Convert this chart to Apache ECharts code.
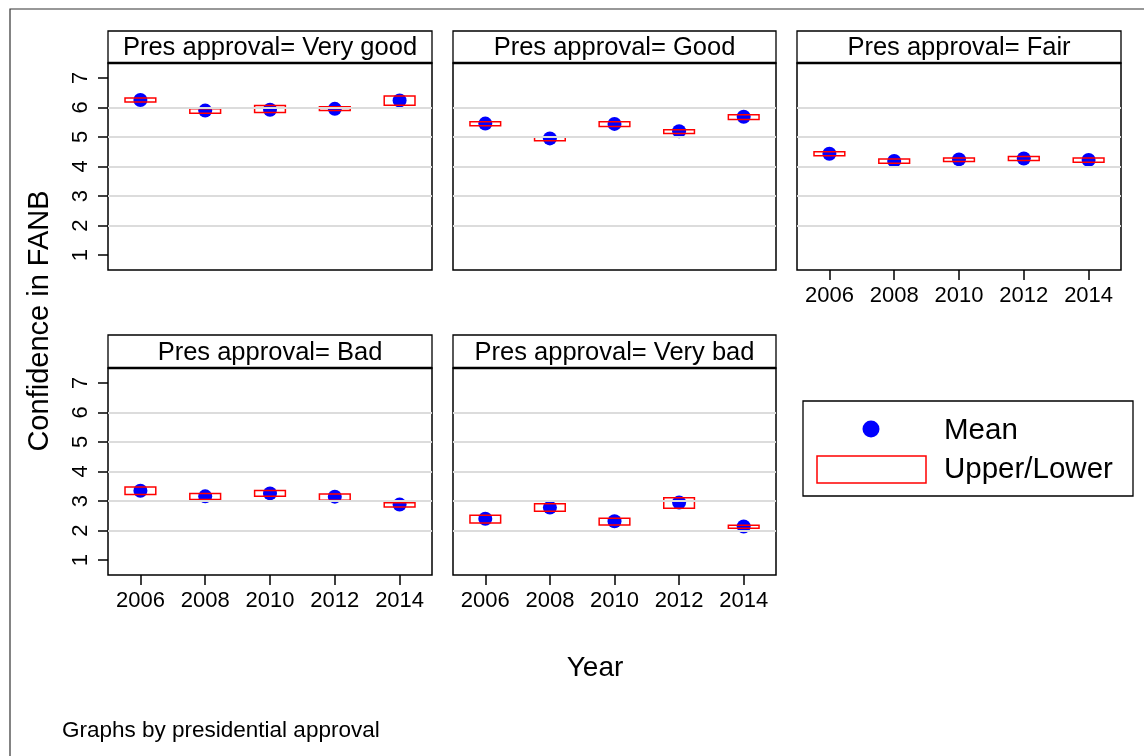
<!DOCTYPE html>
<html>
<head>
<meta charset="utf-8">
<script src="https://cdn.jsdelivr.net/npm/echarts@6/dist/echarts.min.js"></script>
<style>
  html, body { margin: 0; padding: 0; background: #fff; }
  #chart { width: 1144px; height: 756px; }
</style>
</head>
<body>
<div id="chart"></div>
<script>
// ---------- data ----------
const years = [2006, 2008, 2010, 2012, 2014];
const panelNames = ['Very good', 'Good', 'Fair', 'Bad', 'Very bad'];
const yTickValues = [1, 2, 3, 4, 5, 6, 7];
const gridLineValues = [2, 3, 4, 5, 6];

const meanVeryGood  = [6.25, 5.89, 5.92, 5.95, 6.23];
const upperVeryGood = [6.32, 5.95, 6.06, 6.02, 6.38];
const lowerVeryGood = [6.18, 5.80, 5.83, 5.89, 6.07];

const meanGood  = [5.45, 4.95, 5.44, 5.19, 5.68];
const upperGood = [5.51, 5.01, 5.51, 5.24, 5.75];
const lowerGood = [5.38, 4.87, 5.35, 5.12, 5.59];

const meanFair  = [4.43, 4.19, 4.24, 4.27, 4.22];
const upperFair = [4.50, 4.25, 4.29, 4.34, 4.29];
const lowerFair = [4.36, 4.11, 4.17, 4.20, 4.14];

const meanBad  = [3.35, 3.16, 3.26, 3.15, 2.88];
const upperBad = [3.48, 3.26, 3.36, 3.24, 2.94];
const lowerBad = [3.22, 3.05, 3.16, 3.03, 2.80];

const meanVeryBad  = [2.40, 2.78, 2.32, 2.95, 2.14];
const upperVeryBad = [2.52, 2.91, 2.42, 3.11, 2.18];
const lowerVeryBad = [2.26, 2.66, 2.19, 2.76, 2.08];

const means  = [meanVeryGood, meanGood, meanFair, meanBad, meanVeryBad];
const uppers = [upperVeryGood, upperGood, upperFair, upperBad, upperVeryBad];
const lowers = [lowerVeryGood, lowerGood, lowerFair, lowerBad, lowerVeryBad];

// ---------- layout ----------
const FONT = 'Liberation Sans, Arial, Helvetica, sans-serif';
const panels = [
  { left: 108, top: 63,  width: 324, height: 207, yLabels: true,  xLabels: false, titleTop: 31 },
  { left: 453, top: 63,  width: 323, height: 207, yLabels: false, xLabels: false, titleTop: 31 },
  { left: 797, top: 63,  width: 324, height: 207, yLabels: false, xLabels: true,  titleTop: 31 },
  { left: 108, top: 368, width: 324, height: 207, yLabels: true,  xLabels: true,  titleTop: 335 },
  { left: 453, top: 368, width: 323, height: 207, yLabels: false, xLabels: true,  titleTop: 335 }
];

const grids = [], xAxes = [], yAxes = [], series = [], graphics = [];

panels.forEach((p, i) => {
  grids.push({
    left: p.left, top: p.top, width: p.width, height: p.height,
    show: true, borderColor: '#000', borderWidth: 1.5, backgroundColor: '#fff'
  });
  xAxes.push({
    type: 'value', gridIndex: i, min: 2005, max: 2015,
    axisLine: { show: false },
    splitLine: { show: false },
    axisTick: { show: p.xLabels, inside: false, customValues: years, length: 10, lineStyle: { color: '#000', width: 1.5 } },
    axisLabel: {
      show: p.xLabels, customValues: years, margin: 15,
      fontFamily: FONT, fontSize: 22, color: '#000',
      formatter: v => String(v)
    }
  });
  yAxes.push({
    type: 'value', gridIndex: i, min: 0.5, max: 7.5,
    axisLine: { show: false },
    splitLine: { show: false },
    axisTick: { show: p.yLabels, inside: false, customValues: yTickValues, length: 10, lineStyle: { color: '#000', width: 1.5 } },
    axisLabel: {
      show: p.yLabels, customValues: yTickValues, rotate: 90, margin: 16,
      fontFamily: FONT, fontSize: 22, color: '#000',
      formatter: v => String(v)
    }
  });

  // gridlines
  series.push({
    type: 'line', xAxisIndex: i, yAxisIndex: i, data: [], z: 1, silent: true,
    markLine: {
      silent: true, symbol: ['none', 'none'], label: { show: false },
      lineStyle: { color: '#dcdcdc', width: 2, type: 'solid' },
      animation: false,
      data: gridLineValues.map(v => ({ yAxis: v }))
    }
  });

  // mean dots
  series.push({
    type: 'scatter', name: 'Mean', xAxisIndex: i, yAxisIndex: i, z: 3,
    symbol: 'circle', symbolSize: 14,
    itemStyle: { color: '#0000ff', opacity: 1 },
    data: years.map((y, k) => [y, means[i][k]])
  });

  // upper/lower boxes
  series.push({
    type: 'custom', name: 'Upper/Lower', xAxisIndex: i, yAxisIndex: i, z: 4,
    data: years.map((y, k) => [y, lowers[i][k], uppers[i][k]]),
    renderItem: function (params, api) {
      const x = api.value(0);
      const pHi = api.coord([x, api.value(2)]);
      const pLo = api.coord([x, api.value(1)]);
      const w = api.size([1, 0])[0] * 0.95;
      return {
        type: 'rect',
        shape: { x: pHi[0] - w / 2, y: pHi[1], width: w, height: pLo[1] - pHi[1] },
        style: { fill: 'none', stroke: '#ff0000', lineWidth: 1.5 }
      };
    }
  });

  // title strip
  graphics.push({
    type: 'rect', z: 10,
    shape: { x: p.left, y: p.titleTop, width: p.width, height: p.top - p.titleTop },
    style: { fill: '#fff', stroke: '#000', lineWidth: 1.3 }
  });
  graphics.push({
    type: 'line', z: 11,
    shape: { x1: p.left, y1: p.top, x2: p.left + p.width, y2: p.top },
    style: { stroke: '#000', lineWidth: 2.5 }
  });
  graphics.push({
    type: 'text', z: 11,
    x: p.left + p.width / 2, y: (p.titleTop + p.top) / 2 + 1,
    style: {
      text: 'Pres approval= ' + panelNames[i],
      font: '25.5px ' + FONT, fill: '#000', align: 'center', verticalAlign: 'middle'
    }
  });
});

// outer frame
graphics.push({
  type: 'rect', z: 0,
  shape: { x: 10, y: 9, width: 1200, height: 800 },
  style: { fill: 'none', stroke: '#333', lineWidth: 1.2 }
});

// axis titles and note
graphics.push({
  type: 'text', z: 11, x: 40, y: 321, rotation: Math.PI / 2,
  style: { text: 'Confidence in FANB', font: '29px ' + FONT, fill: '#000', align: 'center', verticalAlign: 'middle' }
});
graphics.push({
  type: 'text', z: 11, x: 595, y: 668,
  style: { text: 'Year', font: '28px ' + FONT, fill: '#000', align: 'center', verticalAlign: 'middle' }
});
graphics.push({
  type: 'text', z: 11, x: 62, y: 731,
  style: { text: 'Graphs by presidential approval', font: '22.5px ' + FONT, fill: '#000', align: 'left', verticalAlign: 'middle' }
});

// legend
graphics.push({
  type: 'rect', z: 10,
  shape: { x: 803, y: 401, width: 330, height: 95 },
  style: { fill: '#fff', stroke: '#000', lineWidth: 1.3 }
});
graphics.push({
  type: 'circle', z: 11,
  shape: { cx: 871, cy: 429, r: 8.5 },
  style: { fill: '#0000ff' }
});
graphics.push({
  type: 'rect', z: 11,
  shape: { x: 817, y: 456, width: 109, height: 27 },
  style: { fill: 'none', stroke: '#ff0000', lineWidth: 1.5 }
});
graphics.push({
  type: 'text', z: 11, x: 944, y: 431,
  style: { text: 'Mean', font: '29.5px ' + FONT, fill: '#000', align: 'left', verticalAlign: 'middle' }
});
graphics.push({
  type: 'text', z: 11, x: 944, y: 470,
  style: { text: 'Upper/Lower', font: '29.5px ' + FONT, fill: '#000', align: 'left', verticalAlign: 'middle' }
});

const chart = echarts.init(document.getElementById('chart'), null, { renderer: 'canvas' });
chart.setOption({
  animation: false,
  backgroundColor: '#fff',
  grid: grids,
  xAxis: xAxes,
  yAxis: yAxes,
  series: series,
  graphic: graphics
});
</script>
</body>
</html>
